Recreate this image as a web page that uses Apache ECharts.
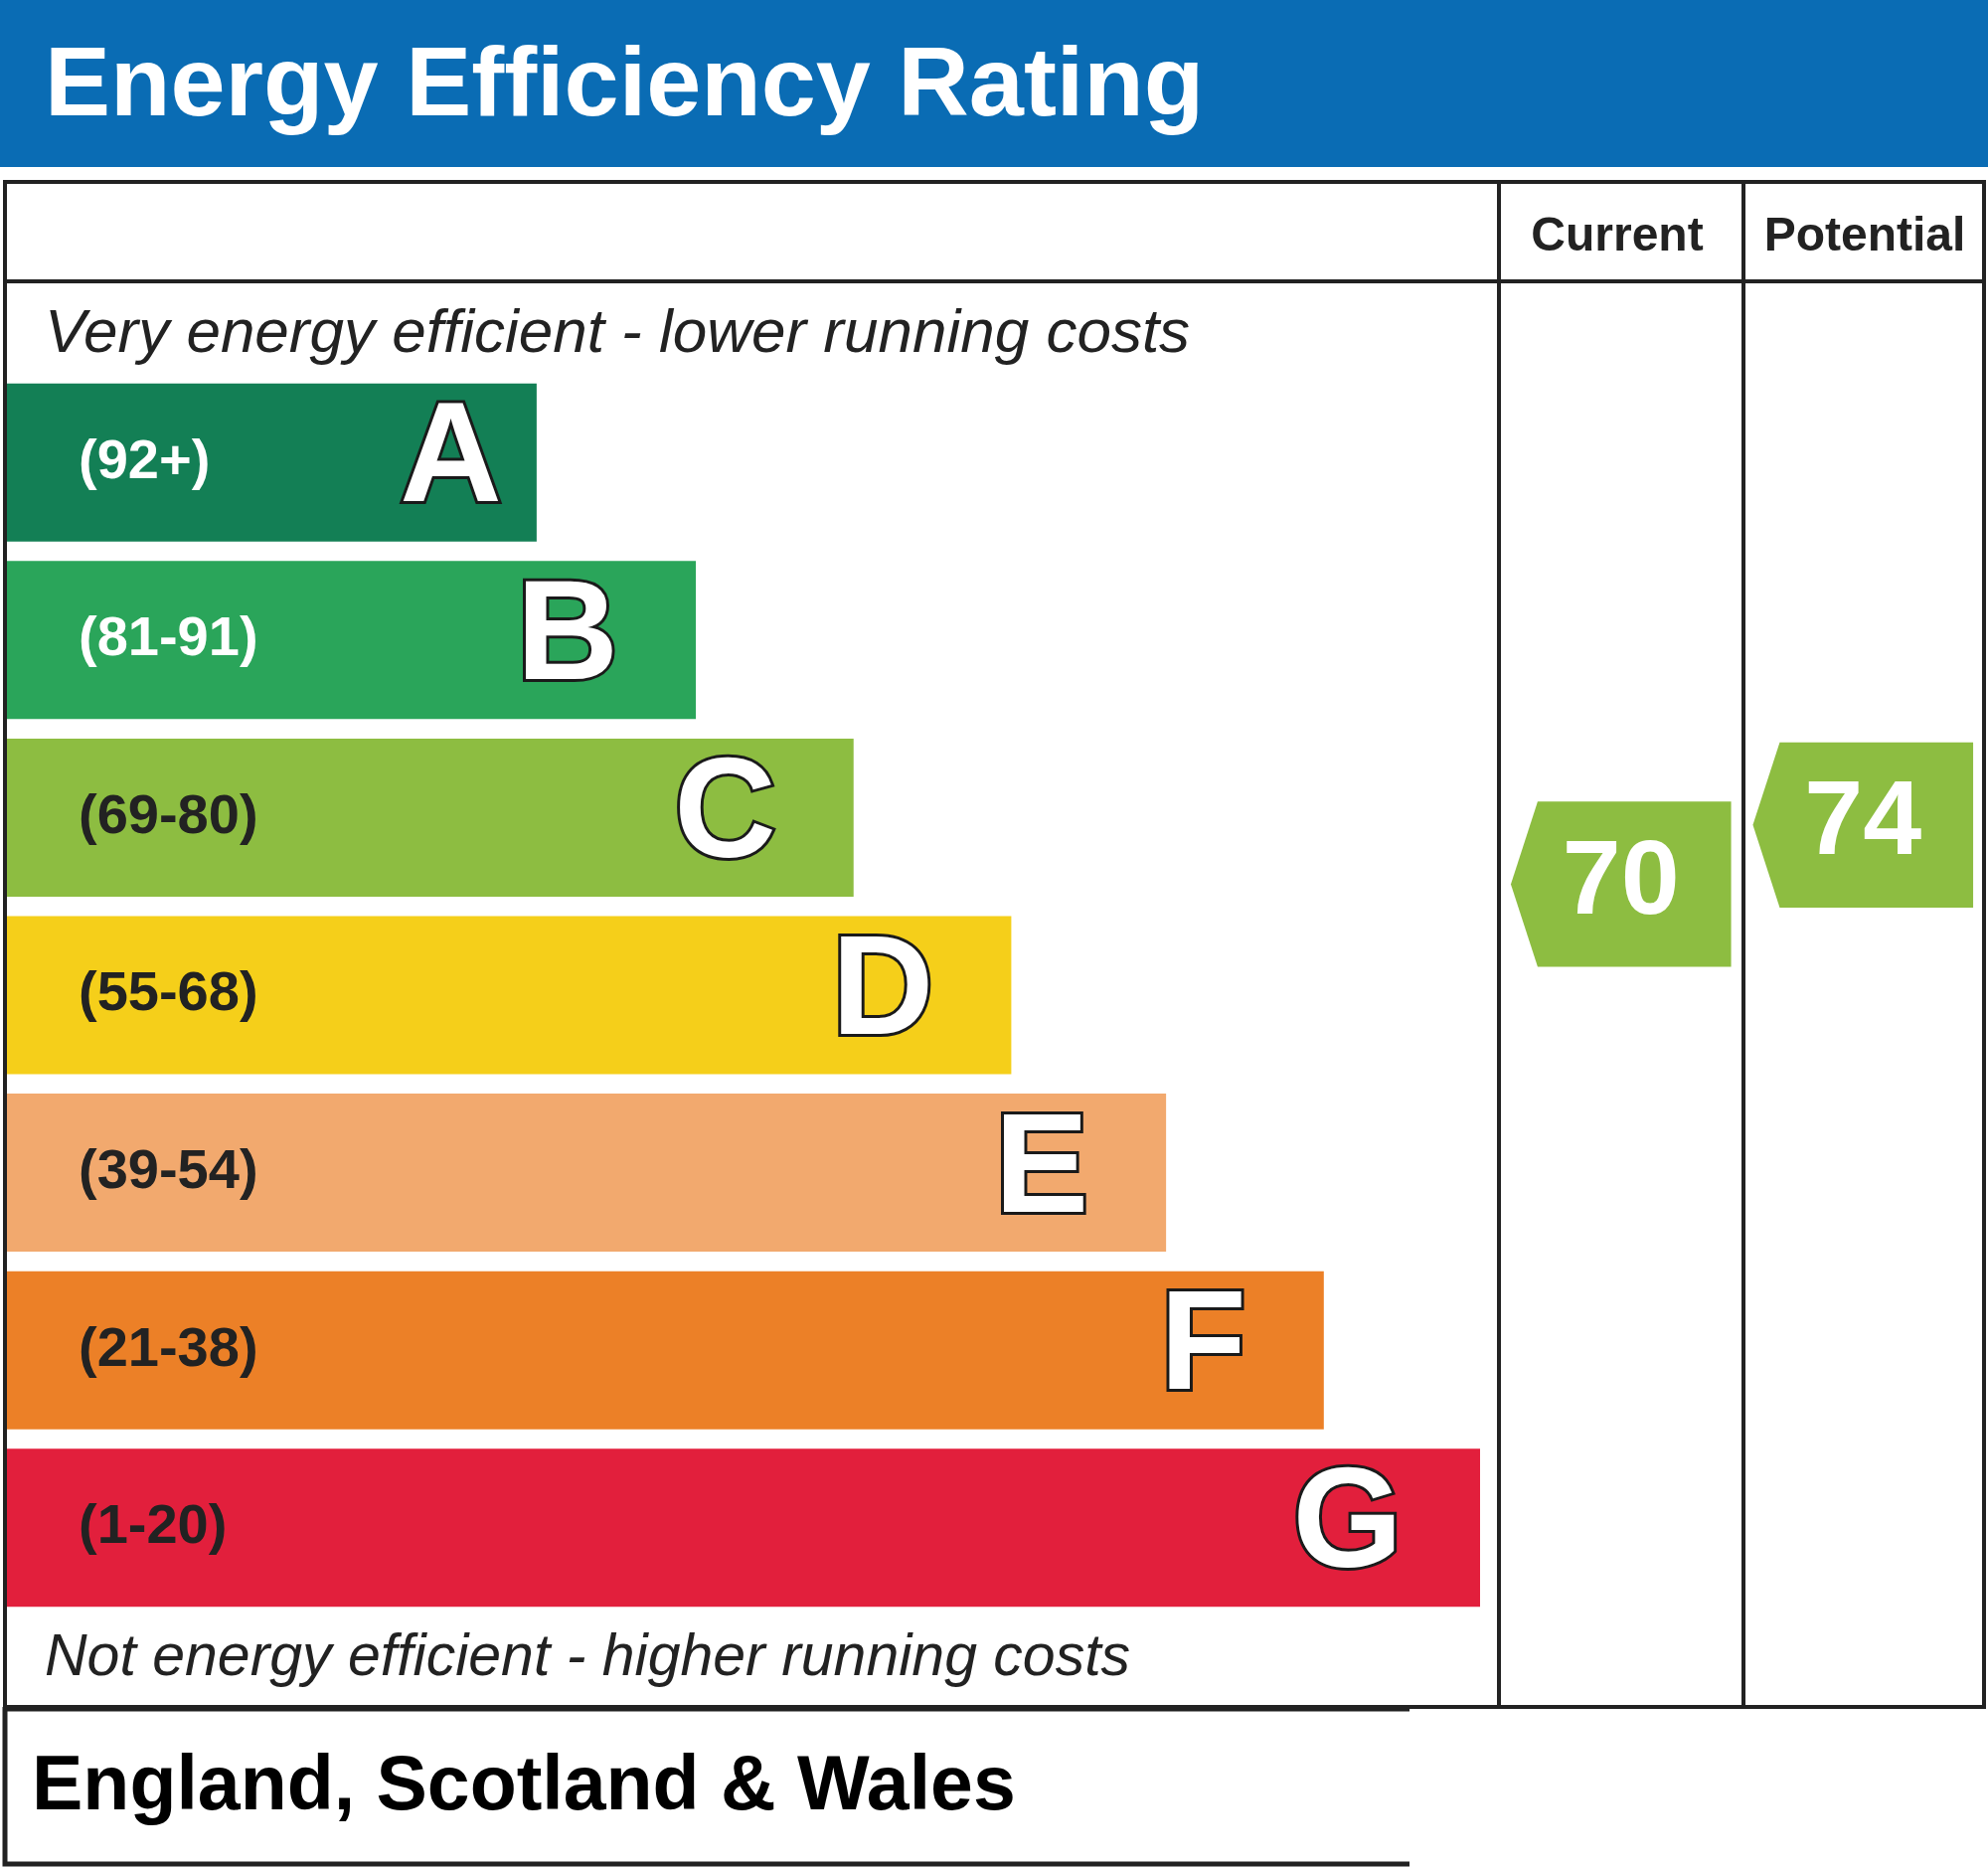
<!DOCTYPE html>
<html>
<head>
<meta charset="utf-8">
<script src="https://cdn.jsdelivr.net/npm/echarts@6/dist/echarts.min.js"></script>
<style>
html,body{margin:0;padding:0;background:#fff;}
#chart{width:2000px;height:1878px;}
</style>
</head>
<body>
<div id="chart"></div>
<script>
// ---- data ----
const bands = ['A', 'B', 'C', 'D', 'E', 'F', 'G'];
const ranges = ['(92+)', '(81-91)', '(69-80)', '(55-68)', '(39-54)', '(21-38)', '(1-20)'];
const bandMin = [92, 81, 69, 55, 39, 21, 1];
const bandMax = [100, 91, 80, 68, 54, 38, 20];
const barLengths = [36, 46.8, 57.5, 68.2, 78.7, 89.4, 100];
const columns = ['Current', 'Potential'];
const ratings = [70, 74];

const title = 'Energy Efficiency Rating';
const topNote = 'Very energy efficient - lower running costs';
const bottomNote = 'Not energy efficient - higher running costs';
const region = 'England, Scotland & Wales';

// ---- styles ----
const bandColors = ['#137f55', '#2aa55a', '#8dbd41', '#f5cf1a', '#f2a96e', '#ec8027', '#e21f3c'];
const rangeLabelColors = ['#ffffff', '#ffffff', '#222222', '#222222', '#222222', '#222222', '#222222'];
const FONT = '"Liberation Sans", Arial, Helvetica, sans-serif';
const LINE = '#222222';

function bandOf(v) {
  for (let i = 0; i < bands.length; i++) {
    if (v >= bandMin[i] && v <= bandMax[i]) return i;
  }
  return bands.length - 1;
}

const chart = echarts.init(document.getElementById('chart'), null, {renderer: 'canvas'});

const gridTop = 376, gridHeight = 1250;

const option = {
  backgroundColor: '#ffffff',
  animation: false,
  grid: [
    {left: 6, top: gridTop, width: 1483, height: gridHeight, containLabel: false},
    {left: 1509, top: gridTop, width: 487, height: gridHeight, containLabel: false}
  ],
  xAxis: [
    {gridIndex: 0, type: 'value', min: 0, max: 100, show: false},
    {gridIndex: 1, type: 'category', data: columns, show: false}
  ],
  yAxis: [
    {gridIndex: 0, type: 'category', data: bands, inverse: true, show: false},
    {gridIndex: 1, type: 'category', data: bands, inverse: true, show: false}
  ],
  graphic: [
    {type: 'rect', shape: {x: 0, y: 0, width: 2000, height: 168}, style: {fill: '#0a6cb4'}, z: 1},
    {type: 'text', x: 45, y: 89, style: {text: title, fill: '#ffffff', font: 'bold 99px ' + FONT, verticalAlign: 'middle', align: 'left'}, z: 2},
    // table frame
    {type: 'rect', shape: {x: 5, y: 183, width: 1991, height: 1534}, style: {fill: 'none', stroke: LINE, lineWidth: 4}, z: 3},
    {type: 'line', shape: {x1: 5, y1: 283, x2: 1996, y2: 283}, style: {stroke: LINE, lineWidth: 4}, z: 3},
    {type: 'line', shape: {x1: 1508, y1: 183, x2: 1508, y2: 1717}, style: {stroke: LINE, lineWidth: 4}, z: 3},
    {type: 'line', shape: {x1: 1754, y1: 183, x2: 1754, y2: 1717}, style: {stroke: LINE, lineWidth: 4}, z: 3},
    // bottom region box
    {type: 'polyline', shape: {points: [[5, 1717], [5, 1875], [1418, 1875]]}, style: {fill: 'none', stroke: LINE, lineWidth: 5}, z: 3},
    {type: 'line', shape: {x1: 5, y1: 1719, x2: 1418, y2: 1719}, style: {stroke: LINE, lineWidth: 5}, z: 3},
    // header texts
    {type: 'text', x: 1627, y: 239, style: {text: columns[0], fill: '#222', font: 'bold 48px ' + FONT, align: 'center', verticalAlign: 'middle'}, z: 3},
    {type: 'text', x: 1876, y: 239, style: {text: columns[1], fill: '#222', font: 'bold 48px ' + FONT, align: 'center', verticalAlign: 'middle'}, z: 3},
    {type: 'text', x: 45, y: 337, style: {text: topNote, fill: '#222', font: 'italic 62px ' + FONT, align: 'left', verticalAlign: 'middle'}, z: 3},
    {type: 'text', x: 45, y: 1669, style: {text: bottomNote, fill: '#222', font: 'italic 59px ' + FONT, align: 'left', verticalAlign: 'middle'}, z: 3},
    {type: 'text', x: 32, y: 1799, style: {text: region, fill: '#000', font: 'bold 77px ' + FONT, align: 'left', verticalAlign: 'middle'}, z: 3}
  ],
  series: [
    {
      type: 'bar',
      xAxisIndex: 0, yAxisIndex: 0,
      barWidth: 159,
      data: barLengths.map((v, i) => ({
        value: v,
        itemStyle: {color: bandColors[i]},
        label: {color: rangeLabelColors[i]}
      })),
      label: {
        show: true,
        position: 'insideLeft',
        distance: 73,
        formatter: p => ranges[p.dataIndex],
        fontFamily: FONT,
        fontWeight: 'bold',
        fontSize: 56
      },
      silent: true
    },
    {
      type: 'bar',
      xAxisIndex: 0, yAxisIndex: 0,
      barWidth: 159,
      barGap: '-100%',
      data: barLengths.map((v, i) => ({
        value: v,
        label: {distance: i === 0 ? 35 : 78}
      })),
      itemStyle: {color: 'rgba(0,0,0,0)'},
      label: {
        show: true,
        position: 'insideRight',
        formatter: p => bands[p.dataIndex],
        fontFamily: FONT,
        fontWeight: 'bold',
        fontSize: 142,
        color: '#ffffff',
        textBorderColor: '#1a1a1a',
        textBorderWidth: 6
      },
      silent: true
    },
    {
      type: 'custom',
      xAxisIndex: 1, yAxisIndex: 1,
      data: ratings.map((v, i) => [i, bandOf(v), v]),
      renderItem: function (params, api) {
        const col = api.value(0), band = api.value(1), v = api.value(2);
        const c = api.coord([col, band]);
        const sz = api.size([1, 1]);
        const lo = bandMin[band], hi = bandMax[band];
        const frac = (v - lo + 0.5) / (hi - lo + 1);
        const yc = c[1] + sz[1] / 2 - frac * sz[1];
        const h = sz[1] * 0.93;
        const w = sz[0] * 0.91;
        const tip = 27;
        const x0 = c[0] - w / 2, x1 = c[0] + w / 2;
        return {
          type: 'group',
          children: [
            {type: 'polygon', shape: {points: [[x0, yc], [x0 + tip, yc - h / 2], [x1, yc - h / 2], [x1, yc + h / 2], [x0 + tip, yc + h / 2]]},
             style: {fill: bandColors[band]}},
            {type: 'text', style: {text: String(v), x: c[0], y: yc, align: 'center', verticalAlign: 'middle',
             fill: '#ffffff', font: 'bold 106px ' + FONT}}
          ]
        };
      },
      silent: true
    }
  ]
};

chart.setOption(option);
</script>
</body>
</html>
